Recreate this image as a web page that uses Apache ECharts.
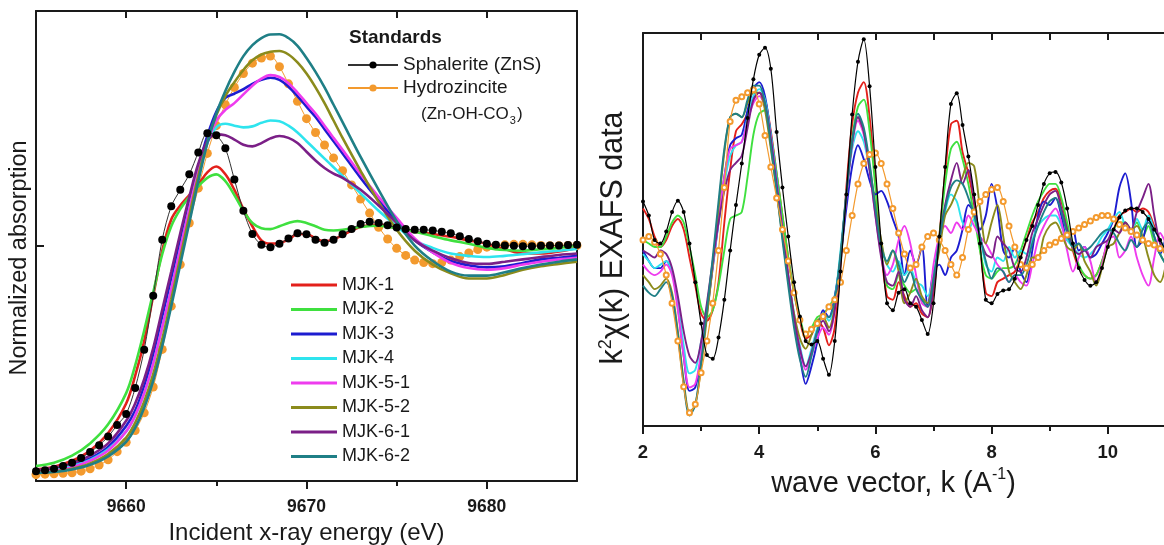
<!DOCTYPE html>
<html>
<head>
<meta charset="utf-8">
<title>Zn K-edge XANES and EXAFS</title>
<script src="https://cdn.jsdelivr.net/npm/echarts/dist/echarts.min.js"></script>
<style>
  html, body { margin: 0; padding: 0; background: #fff; }
  #chart { width: 1164px; height: 545px; }
</style>
</head>
<body>
<div id="chart"></div>
<script>
// ---------- XANES (left panel) ----------
const sampleNames = ['MJK-1', 'MJK-2', 'MJK-3', 'MJK-4', 'MJK-5-1', 'MJK-5-2', 'MJK-6-1', 'MJK-6-2'];
const sampleColors = ['#e3201b', '#3fe03f', '#1c1cd0', '#2ee4ee', '#ee3cee', '#8b8b1c', '#7b1f87', '#1f7f86'];
const standardNames = ['Sphalerite (ZnS)', 'Hydrozincite (Zn-OH-CO3)'];
const standardColors = ['#000000', '#f39a2e'];

const energyTicks = [9660, 9670, 9680];

// energy grid of the sample spectra (eV)
const xanesEnergy = [9655, 9656, 9657, 9658, 9659,
  9660, 9660.5, 9661, 9661.5, 9662, 9662.5, 9663, 9663.5, 9664, 9664.5,
  9665, 9665.5, 9666, 9666.5, 9667, 9667.5, 9668, 9668.5, 9669, 9669.5,
  9670, 9670.5, 9671, 9671.5, 9672,
  9673, 9674, 9675, 9676, 9677, 9678, 9679, 9680, 9681, 9682, 9683, 9684, 9685];

const xanesMJK1 = [0.049, 0.061, 0.086, 0.130, 0.204,
  0.330, 0.448, 0.596, 0.788, 0.980, 1.113, 1.172, 1.217, 1.261, 1.313,
  1.338, 1.305, 1.239, 1.157, 1.084, 1.024, 1.010, 1.013, 1.027, 1.051,
  1.051, 1.032, 1.021, 1.027, 1.047,
  1.081, 1.091, 1.076, 1.061, 1.051, 1.039, 1.024, 1.010, 0.987, 0.968, 0.968, 0.977, 0.992];
const xanesMJK2 = [0.064, 0.078, 0.108, 0.160, 0.241,
  0.374, 0.492, 0.640, 0.803, 0.965, 1.084, 1.157, 1.209, 1.254, 1.290,
  1.305, 1.276, 1.217, 1.150, 1.098, 1.076, 1.072, 1.084, 1.098, 1.106,
  1.098, 1.084, 1.069, 1.066, 1.069,
  1.081, 1.086, 1.076, 1.061, 1.042, 1.024, 1.010, 0.992, 0.983, 0.980, 0.986, 0.992, 1.001];
const xanesMJK3 = [0.041, 0.049, 0.067, 0.096, 0.145,
  0.234, 0.300, 0.404, 0.537, 0.699, 0.862, 1.024, 1.187, 1.335, 1.468,
  1.571, 1.630, 1.648, 1.667, 1.690, 1.707, 1.716, 1.707, 1.678, 1.638,
  1.593, 1.549, 1.497, 1.446, 1.394,
  1.290, 1.194, 1.106, 1.024, 0.973, 0.936, 0.918, 0.909, 0.914, 0.928, 0.943, 0.950, 0.958];
const xanesMJK4 = [0.041, 0.049, 0.064, 0.090, 0.135,
  0.211, 0.278, 0.374, 0.500, 0.655, 0.817, 0.987, 1.157, 1.320, 1.438,
  1.505, 1.520, 1.512, 1.505, 1.509, 1.524, 1.534, 1.531, 1.512, 1.483,
  1.446, 1.409, 1.372, 1.335, 1.298,
  1.224, 1.150, 1.084, 1.024, 0.992, 0.968, 0.958, 0.953, 0.958, 0.965, 0.973, 0.980, 0.987];
const xanesMJK51 = [0.037, 0.044, 0.059, 0.086, 0.130,
  0.211, 0.278, 0.374, 0.500, 0.655, 0.817, 0.987, 1.157, 1.313, 1.438,
  1.534, 1.579, 1.608, 1.645, 1.682, 1.712, 1.727, 1.719, 1.693, 1.653,
  1.608, 1.564, 1.512, 1.460, 1.409,
  1.305, 1.209, 1.120, 1.032, 0.973, 0.928, 0.906, 0.899, 0.906, 0.921, 0.933, 0.943, 0.950];
const xanesMJK52 = [0.034, 0.040, 0.052, 0.075, 0.115,
  0.185, 0.248, 0.337, 0.455, 0.603, 0.773, 0.950, 1.128, 1.298, 1.446,
  1.557, 1.638, 1.697, 1.749, 1.790, 1.815, 1.827, 1.830, 1.815, 1.781,
  1.734, 1.675, 1.608, 1.534, 1.460,
  1.320, 1.187, 1.069, 0.980, 0.921, 0.884, 0.862, 0.862, 0.877, 0.899, 0.914, 0.924, 0.933];
const xanesMJK61 = [0.046, 0.056, 0.075, 0.108, 0.160,
  0.256, 0.330, 0.433, 0.566, 0.729, 0.891, 1.054, 1.209, 1.350, 1.446,
  1.475, 1.471, 1.453, 1.431, 1.424, 1.438, 1.458, 1.468, 1.460, 1.438,
  1.401, 1.364, 1.332, 1.308, 1.290,
  1.239, 1.172, 1.098, 1.024, 0.980, 0.948, 0.928, 0.924, 0.933, 0.943, 0.953, 0.962, 0.968];
const xanesMJK62 = [0.034, 0.038, 0.049, 0.069, 0.105,
  0.167, 0.226, 0.312, 0.426, 0.574, 0.744, 0.921, 1.098, 1.276, 1.438,
  1.564, 1.660, 1.741, 1.808, 1.855, 1.885, 1.900, 1.901, 1.885, 1.852,
  1.800, 1.741, 1.675, 1.601, 1.527,
  1.379, 1.239, 1.106, 1.002, 0.936, 0.891, 0.874, 0.874, 0.888, 0.906, 0.921, 0.933, 0.943];

// energy grid of the reference standards (eV)
const standardEnergy = [9655, 9655.5, 9656, 9656.5, 9657, 9657.5, 9658, 9658.5, 9659, 9659.5,
  9660, 9660.5, 9661, 9661.5, 9662, 9662.5, 9663, 9663.5, 9664, 9664.5,
  9665, 9665.5, 9666, 9666.5, 9667, 9667.5, 9668, 9668.5, 9669, 9669.5,
  9670, 9670.5, 9671, 9671.5, 9672, 9672.5, 9673, 9673.5, 9674, 9674.5,
  9675, 9675.5, 9676, 9676.5, 9677, 9677.5, 9678, 9678.5, 9679, 9679.5,
  9680, 9680.5, 9681, 9681.5, 9682, 9682.5, 9683, 9683.5, 9684, 9684.5, 9685];
const xanesSphalerite = [0.041, 0.046, 0.052, 0.064, 0.078, 0.098, 0.123, 0.152, 0.189, 0.238,
  0.285, 0.396, 0.559, 0.788, 1.027, 1.169, 1.239, 1.305, 1.398, 1.480,
  1.471, 1.416, 1.283, 1.150, 1.051, 1.005, 0.995, 1.010, 1.032, 1.054,
  1.050, 1.027, 1.014, 1.027, 1.050, 1.072, 1.094, 1.103, 1.098, 1.088,
  1.079, 1.072, 1.069, 1.069, 1.066, 1.061, 1.054, 1.042, 1.030, 1.020,
  1.010, 1.005, 1.002, 1.001, 0.999, 0.999, 1.001, 1.002, 1.002, 1.004, 1.005];
const xanesHydrozincite = [0.027, 0.029, 0.031, 0.033, 0.035, 0.042, 0.052, 0.068, 0.090, 0.125,
  0.165, 0.215, 0.290, 0.400, 0.560, 0.744, 0.921, 1.098, 1.246, 1.394,
  1.512, 1.601, 1.675, 1.734, 1.778, 1.800, 1.808, 1.763, 1.690, 1.616,
  1.542, 1.483, 1.430, 1.375, 1.320, 1.260, 1.200, 1.140, 1.080, 1.030,
  0.990, 0.960, 0.940, 0.930, 0.925, 0.930, 0.940, 0.955, 0.970, 0.985,
  0.995, 1.001, 1.005, 1.007, 1.007, 1.005, 1.002, 1.001, 1.001, 1.002, 1.002];

// ---------- EXAFS (right panel) ----------
const kTicks = [2, 4, 6, 8, 10];
const kGrid = [2.0, 2.1, 2.2, 2.3, 2.4, 2.5, 2.6, 2.7, 2.8, 2.9,
  3.0, 3.1, 3.2, 3.3, 3.4, 3.5, 3.6, 3.7, 3.8, 3.9,
  4.0, 4.1, 4.2, 4.3, 4.4, 4.5, 4.6, 4.7, 4.8, 4.9,
  5.0, 5.1, 5.2, 5.3, 5.4, 5.5, 5.6, 5.7, 5.8, 5.9,
  6.0, 6.1, 6.2, 6.3, 6.4, 6.5, 6.6, 6.7, 6.8, 6.9,
  7.0, 7.1, 7.2, 7.3, 7.4, 7.5, 7.6, 7.7, 7.8, 7.9,
  8.0, 8.1, 8.2, 8.3, 8.4, 8.5, 8.6, 8.7, 8.8, 8.9,
  9.0, 9.1, 9.2, 9.3, 9.4, 9.5, 9.6, 9.7, 9.8, 9.9,
  10.0, 10.1, 10.2, 10.3, 10.4, 10.5, 10.6, 10.7, 10.8, 10.9, 11.0];

const exafsMJK1 = [0.50, 0.35, 0.10, -0.05, 0.05, 0.25, 0.35, 0.20, -0.20, -0.60,
  -1.00, -1.10, -0.95, -0.55, 0.30, 1.05, 1.60, 1.70, 1.85, 2.05,
  2.15, 2.05, 1.60, 1.00, 0.40, -0.20, -0.70, -1.10, -1.35, -1.30,
  -1.10, -1.20, -1.45, -1.20, -0.30, 0.80, 1.70, 2.15, 2.30, 1.80,
  0.90, -0.10, -0.75, -0.80, -0.55, -0.75, -0.90, -0.85, -1.00, -1.05,
  -0.70, 0.10, 1.00, 1.70, 1.75, 1.30, 1.00, 0.55, -0.05, -0.70,
  -0.75, -0.55, -0.50, -0.45, -0.40, -0.20, 0.05, 0.30, 0.45, 0.65,
  0.75, 0.78, 0.60, 0.25, -0.10, -0.35, -0.45, -0.50, -0.45, -0.25,
  0.00, 0.20, 0.40, 0.45, 0.50, 0.45, 0.50, 0.45, 0.25, 0.05, -0.10];
const exafsMJK2 = [0.05, 0.00, -0.05, -0.05, 0.10, 0.30, 0.40, 0.30, -0.05, -0.45,
  -0.90, -1.05, -0.95, -0.60, -0.10, 0.35, 0.40, 0.45, 0.95, 1.55,
  1.85, 1.90, 1.55, 1.00, 0.40, -0.20, -0.70, -1.05, -1.30, -1.20,
  -1.05, -1.00, -0.90, -0.75, -0.20, 0.70, 1.50, 1.95, 2.05, 1.60,
  0.80, -0.10, -0.60, -0.65, -0.45, -0.60, -0.70, -0.65, -0.80, -0.85,
  -0.55, 0.10, 0.85, 1.35, 1.45, 1.20, 0.85, 0.40, -0.10, -0.45,
  -0.50, -0.40, -0.35, -0.35, -0.30, -0.10, 0.15, 0.40, 0.60, 0.75,
  0.85, 0.85, 0.65, 0.30, -0.05, -0.30, -0.45, -0.50, -0.45, -0.25,
  0.00, 0.20, 0.30, 0.30, 0.20, 0.30, 0.10, 0.25, 0.00, -0.15, -0.30];
const exafsMJK3 = [-0.10, -0.25, -0.35, -0.35, -0.25, -0.40, -0.90, -1.60, -2.10, -2.05,
  -1.60, -1.00, -0.35, 0.30, 0.95, 1.40, 1.50, 1.55, 1.90, 2.20,
  2.30, 2.10, 1.55, 0.90, 0.20, -0.50, -1.10, -1.60, -2.00, -1.75,
  -1.40, -0.95, -1.05, -0.75, -0.20, 0.50, 1.10, 1.40, 1.20, 0.90,
  0.70, 0.75, 0.60, 0.35, 0.10, -0.45, -0.10, -0.30, -0.05, -0.90,
  -0.40, -0.30, -0.45, -0.20, -0.10, 0.20, 0.55, 0.45, 0.20, 0.40,
  0.85, 0.50, -0.10, -0.20, -0.05, -0.40, -0.55, -0.10, 0.40, 0.60,
  0.55, 0.65, 0.40, 0.05, 0.20, -0.10, -0.05, -0.20, -0.15, 0.00,
  0.15, 0.35, 0.80, 1.00, 0.60, -0.05, 0.05, 0.35, 0.10, -0.15, 0.10];
const exafsMJK4 = [-0.15, -0.25, -0.35, -0.30, -0.25, -0.40, -0.85, -1.45, -1.85, -1.80,
  -1.40, -0.90, -0.30, 0.30, 0.85, 1.25, 1.40, 1.45, 1.80, 2.10,
  2.20, 2.05, 1.55, 0.90, 0.20, -0.45, -1.00, -1.45, -1.75, -1.50,
  -1.20, -1.00, -1.10, -0.80, -0.10, 0.70, 1.35, 1.60, 1.45, 1.05,
  0.50, 0.00, -0.30, -0.40, -0.25, -0.45, -0.35, -0.55, -0.60, -0.75,
  -0.45, 0.00, 0.45, 0.70, 0.60, 0.30, 0.20, 0.35, 0.10, -0.30,
  -0.40, -0.20, -0.25, -0.05, -0.20, -0.10, -0.15, 0.05, 0.25, 0.35,
  0.40, 0.40, 0.25, 0.05, -0.05, -0.15, -0.20, -0.15, -0.05, 0.10,
  0.20, 0.35, 0.45, 0.25, 0.15, 0.35, 0.20, 0.40, 0.20, 0.05, -0.10];
const exafsMJK51 = [-0.30, -0.40, -0.45, -0.40, -0.30, -0.45, -0.95, -1.60, -2.05, -2.00,
  -1.55, -0.95, -0.30, 0.35, 0.95, 1.35, 1.40, 1.45, 1.75, 2.00,
  2.10, 1.95, 1.50, 0.85, 0.20, -0.45, -1.05, -1.50, -1.80, -1.60,
  -1.35, -1.20, -1.30, -0.95, -0.20, 0.65, 1.40, 1.75, 1.55, 1.05,
  0.40, -0.15, -0.45, -0.30, 0.05, 0.25, 0.00, -0.45, -0.85, -0.90,
  -0.30, 0.10, 0.25, 0.15, 0.30, 0.20, 0.40, 0.25, 0.10, 0.00,
  -0.15, -0.30, -0.40, -0.55, -0.45, -0.55, -0.60, -0.30, 0.05, 0.25,
  0.40, 0.50, 0.30, -0.10, -0.40, -0.20, -0.05, -0.25, -0.55, -0.30,
  0.05, 0.10, -0.20, -0.10, 0.10, -0.20, -0.45, -0.60, -0.20, 0.15, 0.00];
const exafsMJK52 = [-0.45, -0.55, -0.65, -0.60, -0.50, -0.70, -1.25, -1.95, -2.40, -2.30,
  -1.75, -1.05, -0.30, 0.50, 1.30, 1.80, 1.85, 1.80, 2.00, 2.15,
  2.15, 1.90, 1.35, 0.75, 0.10, -0.50, -1.00, -1.35, -1.50, -1.30,
  -1.10, -1.05, -1.20, -0.90, -0.20, 0.70, 1.45, 1.80, 1.60, 1.10,
  0.55, 0.05, -0.30, -0.10, -0.40, -0.85, -0.70, -0.50, -0.75, -0.85,
  -0.50, -0.10, 0.40, 0.55, 0.75, 0.95, 1.15, 1.10, 0.50, 0.00,
  0.30, 0.55, 0.10, -0.40, -0.55, -0.65, -0.45, -0.20, -0.20, 0.10,
  0.25, 0.30, 0.15, -0.05, -0.10, 0.00, -0.25, -0.40, -0.60, -0.35,
  -0.05, 0.00, 0.15, 0.30, 0.20, 0.25, 0.10, -0.20, -0.45, -0.55, -0.30];
const exafsMJK61 = [-0.10, -0.15, -0.20, -0.10, -0.15, -0.35, -0.75, -1.25, -1.60, -1.70,
  -1.40, -0.85, -0.25, 0.30, 0.75, 1.05, 1.15, 1.25, 1.65, 2.05,
  2.15, 2.00, 1.50, 0.85, 0.20, -0.45, -1.05, -1.50, -1.75, -1.55,
  -1.25, -1.10, -1.25, -0.95, -0.20, 0.70, 1.45, 1.80, 1.60, 1.05,
  0.40, -0.20, -0.55, -0.60, -0.40, -0.80, -0.90, -0.75, -0.95, -1.05,
  -0.60, 0.05, 0.55, 0.90, 1.15, 0.85, 1.05, 0.60, 0.10, -0.15,
  -0.20, 0.10, 0.00, -0.10, -0.35, -0.40, -0.20, 0.15, 0.35, 0.55,
  0.70, 0.75, 0.50, 0.20, -0.05, -0.15, -0.10, -0.20, -0.05, 0.00,
  0.05, 0.20, 0.15, 0.30, 0.20, 0.45, 0.65, 0.85, 0.40, 0.00, -0.15];
const exafsMJK62 = [-0.60, -0.70, -0.75, -0.65, -0.55, -0.75, -1.30, -2.00, -2.45, -2.30,
  -1.70, -0.95, -0.20, 0.60, 1.35, 1.80, 1.85, 1.80, 2.05, 2.25,
  2.25, 2.00, 1.40, 0.75, 0.05, -0.60, -1.20, -1.65, -1.90, -1.60,
  -1.25, -1.00, -1.05, -0.80, -0.15, 0.70, 1.45, 1.85, 1.65, 1.15,
  0.50, -0.05, -0.25, -0.10, -0.30, -0.55, -0.40, -0.65, -0.80, -0.90,
  -0.50, 0.05, 0.50, 0.80, 0.90, 0.85, 0.65, 0.40, 0.10, -0.25,
  -0.50, -0.35, -0.40, -0.55, -0.45, -0.45, -0.30, 0.00, 0.25, 0.45,
  0.60, 0.65, 0.45, 0.15, -0.05, 0.00, -0.10, -0.05, 0.05, 0.15,
  0.20, 0.15, 0.00, -0.10, 0.05, -0.05, 0.20, 0.30, 0.10, -0.15, -0.30];
const exafsSphalerite = [0.60, 0.40, 0.05, 0.00, 0.17, 0.45, 0.61, 0.45, 0.00, -0.55,
  -1.14, -1.59, -1.64, -1.34, -0.80, -0.10, 0.55, 1.14, 1.79, 2.34,
  2.69, 2.79, 2.49, 1.59, 0.80, 0.10, -0.55, -1.04, -1.39, -1.44,
  -1.39, -1.64, -1.87, -1.39, -0.40, 0.70, 1.84, 2.59, 2.91, 2.24,
  1.09, 0.00, -0.85, -0.95, -0.70, -0.65, -0.85, -0.90, -1.09, -1.29,
  -0.85, 0.10, 1.09, 1.99, 2.14, 1.69, 1.24, 0.70, 0.00, -0.80,
  -0.85, -0.72, -0.67, -0.65, -0.50, -0.20, 0.05, 0.25, 0.55, 0.85,
  1.00, 1.02, 0.87, 0.50, 0.00, -0.35, -0.52, -0.60, -0.55, -0.35,
  -0.05, 0.20, 0.37, 0.47, 0.50, 0.50, 0.45, 0.35, 0.20, 0.05, -0.10];
const exafsHydrozincite = [0.05, 0.10, 0.02, -0.15, -0.45, -0.85, -1.39, -2.04, -2.41, -2.29,
  -1.84, -1.39, -0.85, -0.10, 0.80, 1.74, 2.04, 2.09, 2.15, 2.19,
  1.99, 1.54, 1.09, 0.65, 0.20, -0.25, -0.70, -1.09, -1.29, -1.22,
  -1.14, -1.04, -0.90, -0.80, -0.55, -0.10, 0.40, 0.85, 1.14, 1.27,
  1.29, 1.14, 0.85, 0.50, 0.15, -0.15, -0.35, -0.30, -0.05, 0.10,
  0.15, 0.05, -0.10, -0.30, -0.45, -0.20, 0.20, 0.45, 0.60, 0.70,
  0.77, 0.80, 0.60, 0.25, -0.05, -0.30, -0.35, -0.30, -0.20, -0.10,
  -0.02, 0.02, 0.07, 0.12, 0.17, 0.22, 0.27, 0.32, 0.37, 0.40,
  0.40, 0.35, 0.27, 0.22, 0.17, 0.12, 0.05, 0.00, -0.02, -0.07, -0.10];

const xanesSamples = [xanesMJK1, xanesMJK2, xanesMJK3, xanesMJK4, xanesMJK51, xanesMJK52, xanesMJK61, xanesMJK62];
const exafsSamples = [exafsMJK1, exafsMJK2, exafsMJK3, exafsMJK4, exafsMJK51, exafsMJK52, exafsMJK61, exafsMJK62];

const zip = (xs, ys) => xs.map((x, i) => [x, ys[i]]);

const FONT = '"Liberation Sans", Arial, Helvetica, sans-serif';
const INK = '#1a1a1a';

const series = [];

// left panel: hydrozincite under the sample curves, sphalerite on top
series.push({
  name: standardNames[1], type: 'line', xAxisIndex: 0, yAxisIndex: 0,
  data: zip(standardEnergy, xanesHydrozincite), smooth: 0.3,
  symbol: 'circle', symbolSize: 9, z: 1,
  itemStyle: { color: standardColors[1] }, lineStyle: { color: standardColors[1], width: 1 }
});
sampleNames.forEach((n, i) => {
  series.push({
    name: n, type: 'line', xAxisIndex: 0, yAxisIndex: 0,
    data: zip(xanesEnergy, xanesSamples[i]), smooth: 0.35, symbol: 'none', z: 2,
    itemStyle: { color: sampleColors[i] }, lineStyle: { color: sampleColors[i], width: 2.6 }
  });
});
series.push({
  name: standardNames[0], type: 'line', xAxisIndex: 0, yAxisIndex: 0,
  data: zip(standardEnergy, xanesSphalerite), smooth: 0.3,
  symbol: 'circle', symbolSize: 8, z: 3,
  itemStyle: { color: standardColors[0] }, lineStyle: { color: '#333', width: 1 }
});

// right panel
sampleNames.forEach((n, i) => {
  series.push({
    name: n, type: 'line', xAxisIndex: 3, yAxisIndex: 2,
    data: zip(kGrid, exafsSamples[i]), smooth: 0.3, symbol: 'none', z: 2,
    itemStyle: { color: sampleColors[i] }, lineStyle: { color: sampleColors[i], width: 1.9 }
  });
});
series.push({
  name: standardNames[1], type: 'line', xAxisIndex: 3, yAxisIndex: 2,
  data: zip(kGrid, exafsHydrozincite), smooth: 0.3,
  symbol: 'emptyCircle', symbolSize: 5, z: 3,
  itemStyle: { color: standardColors[1], borderWidth: 1 }, lineStyle: { color: standardColors[1], width: 1.2 }
});
series.push({
  name: standardNames[0], type: 'line', xAxisIndex: 3, yAxisIndex: 2,
  data: zip(kGrid, exafsSphalerite), smooth: 0.3,
  symbol: 'circle', symbolSize: 4, z: 4,
  itemStyle: { color: standardColors[0] }, lineStyle: { color: '#000', width: 1.2 }
});

const spine = { show: true, onZero: false, lineStyle: { color: INK, width: 2 } };
const noSplit = { show: false };
const plainNumber = (v) => String(v);

const option = {
  animation: false,
  backgroundColor: '#ffffff',
  textStyle: { fontFamily: FONT },
  grid: [
    { left: 36, top: 11, width: 541, height: 470, outerBoundsMode: 'none', containLabel: false },
    { left: 643, top: 33, width: 581, height: 393, outerBoundsMode: 'none', containLabel: false }
  ],
  title: [
    { text: 'Standards', left: 349, top: 28, padding: 0,
      textStyle: { fontFamily: FONT, fontSize: 19, fontWeight: 'bold', color: INK } },
    { text: '(Zn-OH-CO{sub|3})', left: 421, top: 102, padding: 0,
      textStyle: { fontFamily: FONT, fontSize: 17, fontWeight: 'normal', color: INK, lineHeight: 24,
        rich: { sub: { fontFamily: FONT, fontSize: 11, lineHeight: 11, verticalAlign: 'bottom', color: INK, padding: [0, 1, 0, 1] } } } }
  ],
  legend: [
    {
      data: standardNames, orient: 'vertical', left: 347, top: 55, padding: 0,
      itemWidth: 50, itemHeight: 9, itemGap: 3,
      formatter: (n) => n.startsWith('Hydrozincite') ? 'Hydrozincite' : n,
      textStyle: { fontFamily: FONT, fontSize: 19, lineHeight: 20, color: INK },
      selectedMode: false
    },
    {
      data: sampleNames, orient: 'vertical', left: 291, top: 275, padding: 0,
      icon: 'rect', itemWidth: 46, itemHeight: 3, itemGap: 4.5,
      textStyle: { fontFamily: FONT, fontSize: 18, lineHeight: 20, color: INK },
      selectedMode: false
    }
  ],
  xAxis: [
    { // 0: energy, bottom, labelled
      gridIndex: 0, type: 'value', min: 9655, max: 9685, position: 'bottom',
      axisLine: spine,
      axisTick: { show: true, customValues: energyTicks, length: 8, lineStyle: { color: INK, width: 2 } },
      axisLabel: { customValues: energyTicks, formatter: plainNumber, fontFamily: FONT, fontSize: 17.5, fontWeight: 'bold', color: INK, margin: 17 },
      splitLine: noSplit,
      name: 'Incident x-ray energy (eV)', nameLocation: 'middle', nameGap: 40,
      nameTextStyle: { fontFamily: FONT, fontSize: 24, color: INK }
    },
    { // 1: energy minor ticks
      gridIndex: 0, type: 'value', min: 9655, max: 9685, position: 'bottom',
      axisLine: { show: false, onZero: false },
      axisTick: { show: true, customValues: [9665, 9675], length: 5, lineStyle: { color: INK, width: 2 } },
      axisLabel: { show: false }, splitLine: noSplit
    },
    { // 2: energy top frame
      gridIndex: 0, type: 'value', min: 9655, max: 9685, position: 'top',
      axisLine: spine,
      axisTick: { show: true, inside: true, customValues: [9660, 9665, 9670, 9675, 9680], length: 7, lineStyle: { color: INK, width: 2 } },
      axisLabel: { show: false }, splitLine: noSplit
    },
    { // 3: wave vector, bottom, labelled
      gridIndex: 1, type: 'value', min: 2, max: 12, position: 'bottom',
      axisLine: spine,
      axisTick: { show: true, customValues: kTicks, length: 8, lineStyle: { color: INK, width: 2 } },
      axisLabel: { customValues: kTicks, formatter: plainNumber, fontFamily: FONT, fontSize: 18.5, fontWeight: 'bold', color: INK, margin: 17 },
      splitLine: noSplit,
      name: 'wave vector, k (A{sup|-1})', nameLocation: 'middle', nameGap: 40,
      nameTextStyle: { fontFamily: FONT, fontSize: 29, color: INK, lineHeight: 34, padding: [0, 80, 0, 0],
        rich: { sup: { fontFamily: FONT, fontSize: 16, lineHeight: 16, verticalAlign: 'top', color: INK } } }
    },
    { // 4: wave vector minor ticks
      gridIndex: 1, type: 'value', min: 2, max: 12, position: 'bottom',
      axisLine: { show: false, onZero: false },
      axisTick: { show: true, customValues: [3, 5, 7, 9, 11], length: 5, lineStyle: { color: INK, width: 2 } },
      axisLabel: { show: false }, splitLine: noSplit
    },
    { // 5: wave vector top frame
      gridIndex: 1, type: 'value', min: 2, max: 12, position: 'top',
      axisLine: spine,
      axisTick: { show: true, inside: true, customValues: [3, 4, 5, 6, 7, 8, 9, 10, 11], length: 7, lineStyle: { color: INK, width: 2 } },
      axisLabel: { show: false }, splitLine: noSplit
    }
  ],
  yAxis: [
    { // 0: normalized absorption, left
      gridIndex: 0, type: 'value', min: 0, max: 2, position: 'left',
      axisLine: spine,
      axisTick: { show: true, inside: true, customValues: [1], length: 8, lineStyle: { color: INK, width: 2 } },
      axisLabel: { show: false }, splitLine: noSplit,
      name: 'Normalized absorption', nameLocation: 'middle', nameRotate: 90, nameGap: 4,
      nameTextStyle: { fontFamily: FONT, fontSize: 23.5, color: INK, padding: [0, 24, 0, 0] }
    },
    { // 1: right frame
      gridIndex: 0, type: 'value', min: 0, max: 2, position: 'right',
      axisLine: spine,
      axisTick: { show: true, inside: true, customValues: [1], length: 8, lineStyle: { color: INK, width: 2 } },
      axisLabel: { show: false }, splitLine: noSplit
    },
    { // 2: k^2 chi(k)
      gridIndex: 1, type: 'value', min: -2.6, max: 3.0, position: 'left',
      axisLine: spine, axisTick: { show: false },
      axisLabel: { show: false }, splitLine: noSplit,
      name: 'k{sup|2}χ(k) EXAFS data', nameLocation: 'middle', nameRotate: 90, nameGap: 12,
      nameTextStyle: { fontFamily: FONT, fontSize: 30.5, color: INK, lineHeight: 34, padding: [0, 17, 0, 0],
        rich: { sup: { fontFamily: FONT, fontSize: 18, lineHeight: 18, verticalAlign: 'top', color: INK } } }
    }
  ],
  series: series
};

const chart = echarts.init(document.getElementById('chart'), null, { renderer: 'canvas' });
chart.setOption(option);
</script>
</body>
</html>
